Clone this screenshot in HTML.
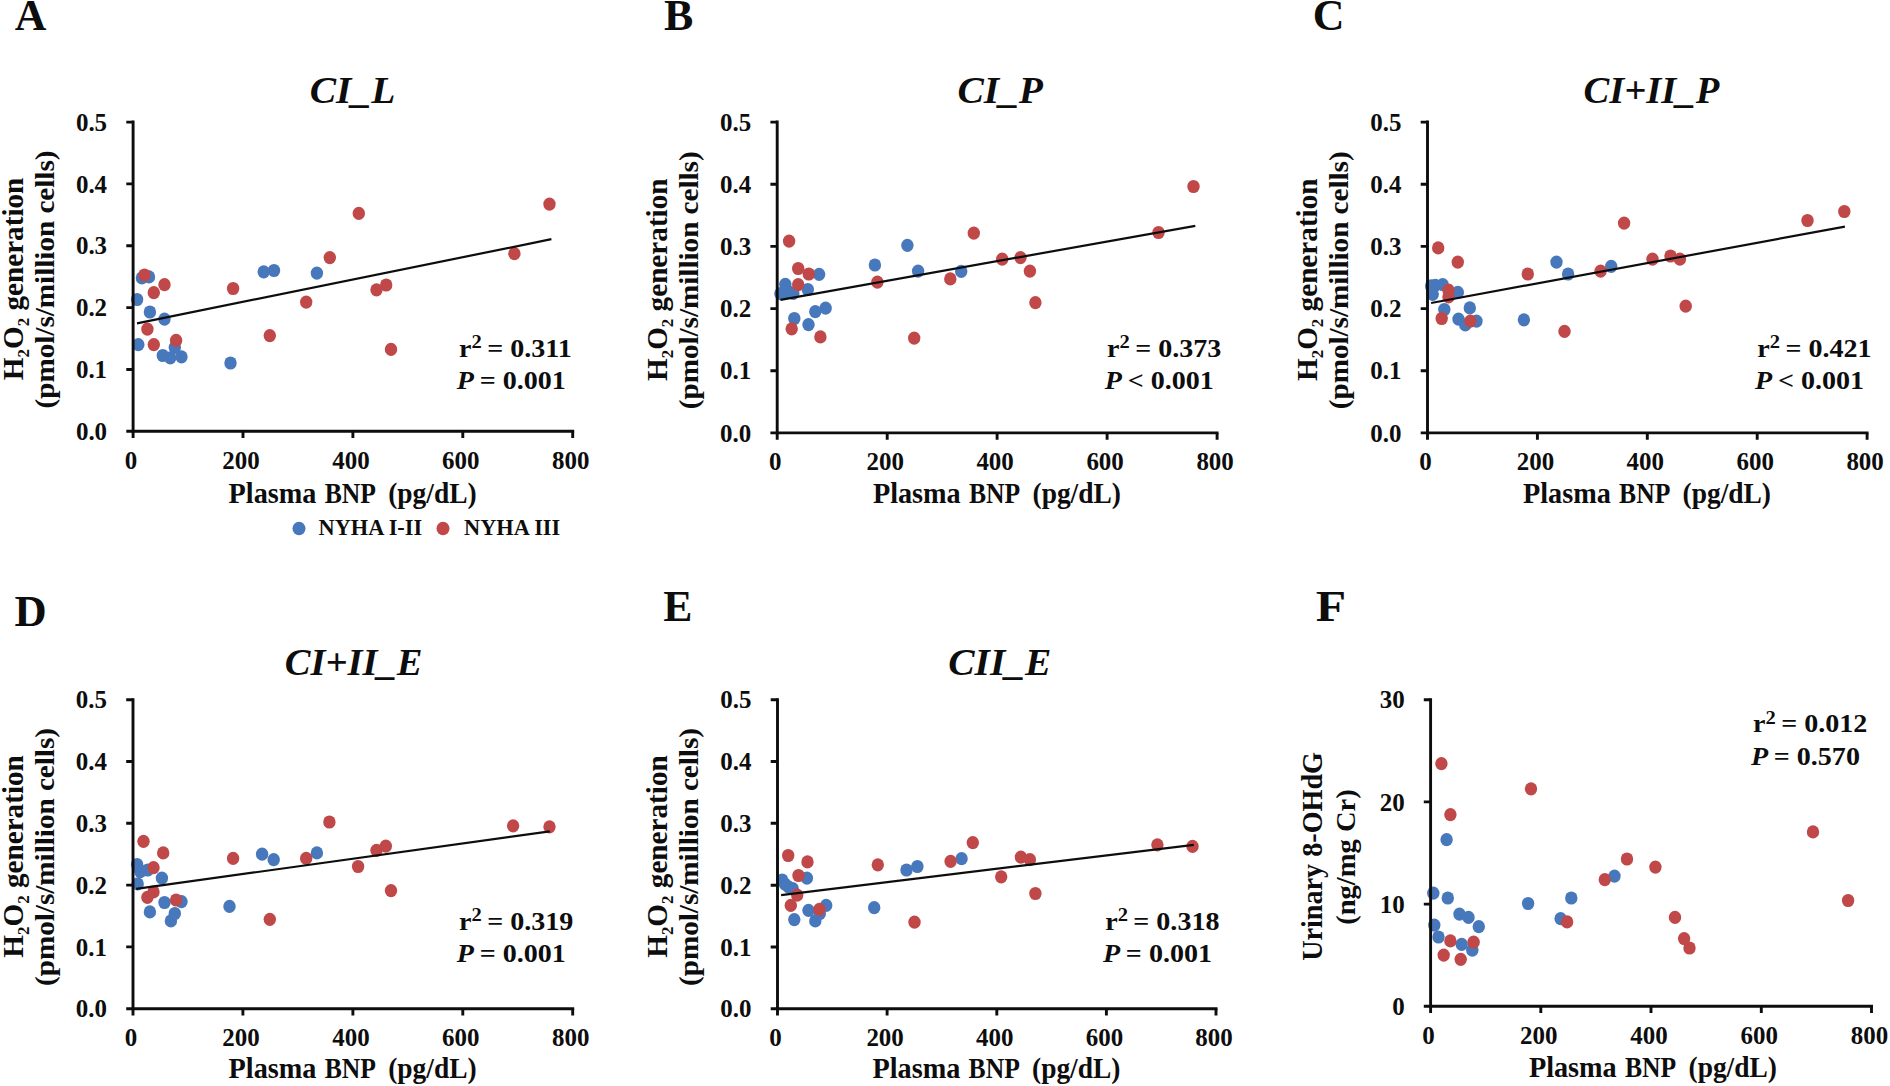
<!DOCTYPE html>
<html lang="en"><head><meta charset="utf-8"><title>Figure</title>
<style>html,body{margin:0;padding:0;background:#fff;overflow:hidden}svg{display:block}text{font-family:"Liberation Serif", "DejaVu Serif", serif;font-weight:bold;fill:#0d0d0d}.tick{font-size:26px}.ax{font-size:28px}.ax1{font-size:29.5px}.axx{font-size:29.5px}.ttl{font-size:37px;font-style:italic}.let{font-size:43.7px}.st{font-size:26px}.lg{font-size:23px}.sub{font-size:17px}.sup{font-size:19px}</style></head><body>
<svg width="1890" height="1086" viewBox="0 0 1890 1086">
<rect width="1890" height="1086" fill="#fff"/>
<g>
<text class="let" transform="translate(14.8 29.8) scale(1.003 1)">A</text>
<text class="ttl" transform="translate(352.5 103.0) scale(1.067 1)" text-anchor="middle">CI_L</text>
<text class="tick" transform="translate(107.1 439.9) scale(0.96 1)" text-anchor="end">0.0</text>
<text class="tick" transform="translate(107.1 378.1) scale(0.96 1)" text-anchor="end">0.1</text>
<text class="tick" transform="translate(107.1 316.2) scale(0.96 1)" text-anchor="end">0.2</text>
<text class="tick" transform="translate(107.1 254.4) scale(0.96 1)" text-anchor="end">0.3</text>
<text class="tick" transform="translate(107.1 192.5) scale(0.96 1)" text-anchor="end">0.4</text>
<text class="tick" transform="translate(107.1 130.7) scale(0.96 1)" text-anchor="end">0.5</text>
<text class="tick" transform="translate(131.1 468.7) scale(0.96 1)" text-anchor="middle">0</text>
<text class="tick" transform="translate(241.0 468.7) scale(0.96 1)" text-anchor="middle">200</text>
<text class="tick" transform="translate(350.9 468.7) scale(0.96 1)" text-anchor="middle">400</text>
<text class="tick" transform="translate(460.8 468.7) scale(0.96 1)" text-anchor="middle">600</text>
<text class="tick" transform="translate(570.7 468.7) scale(0.96 1)" text-anchor="middle">800</text>
<text class="axx" x="228.6" y="503.1" textLength="87.8" lengthAdjust="spacingAndGlyphs">Plasma</text>
<text class="axx" x="324.7" y="503.1" textLength="51.2" lengthAdjust="spacingAndGlyphs">BNP</text>
<text class="axx" x="388.2" y="503.1" textLength="88.4" lengthAdjust="spacingAndGlyphs">(pg/dL)</text>
<text class="ax1" transform="translate(22.9 278.9) rotate(-90) scale(0.99 1)" text-anchor="middle">H<tspan class="sub" dy="6">2</tspan><tspan dy="-6">O</tspan><tspan class="sub" dy="6">2</tspan><tspan dy="-6"> generation</tspan></text>
<text class="ax" transform="translate(53.9 279.5) rotate(-90) scale(1.04 1)" text-anchor="middle">(pmol/s/million cells)</text>
<g fill="#4878bc"><ellipse cx="141.9" cy="277.9" rx="6.2" ry="6.6"/><ellipse cx="149.0" cy="276.9" rx="6.2" ry="6.6"/><ellipse cx="137.1" cy="299.5" rx="6.2" ry="6.6"/><ellipse cx="149.9" cy="312.0" rx="6.2" ry="6.6"/><ellipse cx="164.5" cy="319.1" rx="6.2" ry="6.6"/><ellipse cx="138.3" cy="344.6" rx="6.2" ry="6.6"/><ellipse cx="162.8" cy="355.5" rx="6.2" ry="6.6"/><ellipse cx="170.3" cy="357.8" rx="6.2" ry="6.6"/><ellipse cx="174.8" cy="347.5" rx="6.2" ry="6.6"/><ellipse cx="181.5" cy="356.8" rx="6.2" ry="6.6"/><ellipse cx="230.5" cy="363.0" rx="6.2" ry="6.6"/><ellipse cx="263.7" cy="271.8" rx="6.2" ry="6.6"/><ellipse cx="274.0" cy="270.5" rx="6.2" ry="6.6"/><ellipse cx="316.9" cy="273.1" rx="6.2" ry="6.6"/></g>
<g fill="#c04848"><ellipse cx="144.5" cy="275.0" rx="6.2" ry="6.6"/><ellipse cx="164.5" cy="284.7" rx="6.2" ry="6.6"/><ellipse cx="153.8" cy="292.7" rx="6.2" ry="6.6"/><ellipse cx="147.4" cy="329.1" rx="6.2" ry="6.6"/><ellipse cx="153.8" cy="344.6" rx="6.2" ry="6.6"/><ellipse cx="176.1" cy="340.4" rx="6.2" ry="6.6"/><ellipse cx="233.1" cy="288.5" rx="6.2" ry="6.6"/><ellipse cx="269.8" cy="335.6" rx="6.2" ry="6.6"/><ellipse cx="306.2" cy="302.1" rx="6.2" ry="6.6"/><ellipse cx="329.8" cy="257.6" rx="6.2" ry="6.6"/><ellipse cx="358.8" cy="213.4" rx="6.2" ry="6.6"/><ellipse cx="376.5" cy="289.8" rx="6.2" ry="6.6"/><ellipse cx="386.2" cy="285.0" rx="6.2" ry="6.6"/><ellipse cx="391.0" cy="349.4" rx="6.2" ry="6.6"/><ellipse cx="549.5" cy="204.1" rx="6.2" ry="6.6"/><ellipse cx="514.4" cy="253.7" rx="6.2" ry="6.6"/></g>
<line x1="137" y1="323.3" x2="551.4" y2="239.2" stroke="#0d0d0d" stroke-width="2.2"/>
<path d="M133.1 120.6 V431.3 H574.2" fill="none" stroke="#0d0d0d" stroke-width="2.9"/>
<path d="M126.3 431.3H133.1M126.3 369.5H133.1M126.3 307.6H133.1M126.3 245.8H133.1M126.3 183.9H133.1M126.3 122.1H133.1M133.1 431.3V438.1M243.0 431.3V438.1M352.9 431.3V438.1M462.8 431.3V438.1M572.7 431.3V438.1" fill="none" stroke="#0d0d0d" stroke-width="2.9"/>
<text class="st" transform="translate(459 356.8) scale(1.08 1)">r<tspan class="sup" dy="-8.8">2</tspan><tspan dy="8.8" dx="-1.5"> = 0.311</tspan></text>
<text class="st" transform="translate(456.8 389.1) scale(1.08 1)"><tspan font-style="italic">P</tspan><tspan dx="-1.2"> = 0.001</tspan></text>
</g>
<g>
<text class="let" transform="translate(664.0 29.9) scale(1.005 1)">B</text>
<text class="ttl" transform="translate(1000.2 103.0) scale(1.067 1)" text-anchor="middle">CI_P</text>
<text class="tick" transform="translate(751.2 441.5) scale(0.96 1)" text-anchor="end">0.0</text>
<text class="tick" transform="translate(751.2 379.3) scale(0.96 1)" text-anchor="end">0.1</text>
<text class="tick" transform="translate(751.2 317.2) scale(0.96 1)" text-anchor="end">0.2</text>
<text class="tick" transform="translate(751.2 255.0) scale(0.96 1)" text-anchor="end">0.3</text>
<text class="tick" transform="translate(751.2 192.9) scale(0.96 1)" text-anchor="end">0.4</text>
<text class="tick" transform="translate(751.2 130.7) scale(0.96 1)" text-anchor="end">0.5</text>
<text class="tick" transform="translate(775.2 470.3) scale(0.96 1)" text-anchor="middle">0</text>
<text class="tick" transform="translate(885.2 470.3) scale(0.96 1)" text-anchor="middle">200</text>
<text class="tick" transform="translate(995.1 470.3) scale(0.96 1)" text-anchor="middle">400</text>
<text class="tick" transform="translate(1105.1 470.3) scale(0.96 1)" text-anchor="middle">600</text>
<text class="tick" transform="translate(1215.1 470.3) scale(0.96 1)" text-anchor="middle">800</text>
<text class="axx" x="872.9" y="503.1" textLength="87.8" lengthAdjust="spacingAndGlyphs">Plasma</text>
<text class="axx" x="969.0" y="503.1" textLength="51.2" lengthAdjust="spacingAndGlyphs">BNP</text>
<text class="axx" x="1032.5" y="503.1" textLength="88.4" lengthAdjust="spacingAndGlyphs">(pg/dL)</text>
<text class="ax1" transform="translate(667.0 279.7) rotate(-90) scale(0.99 1)" text-anchor="middle">H<tspan class="sub" dy="6">2</tspan><tspan dy="-6">O</tspan><tspan class="sub" dy="6">2</tspan><tspan dy="-6"> generation</tspan></text>
<text class="ax" transform="translate(698.0 280.3) rotate(-90) scale(1.04 1)" text-anchor="middle">(pmol/s/million cells)</text>
<g fill="#4878bc"><ellipse cx="785.3" cy="284.3" rx="6.2" ry="6.6"/><ellipse cx="780.4" cy="293.7" rx="6.2" ry="6.6"/><ellipse cx="783.7" cy="292.7" rx="6.2" ry="6.6"/><ellipse cx="788.5" cy="291.7" rx="6.2" ry="6.6"/><ellipse cx="793.3" cy="293.4" rx="6.2" ry="6.6"/><ellipse cx="807.8" cy="289.5" rx="6.2" ry="6.6"/><ellipse cx="819.1" cy="274.3" rx="6.2" ry="6.6"/><ellipse cx="794.3" cy="318.5" rx="6.2" ry="6.6"/><ellipse cx="808.5" cy="324.6" rx="6.2" ry="6.6"/><ellipse cx="815.3" cy="311.7" rx="6.2" ry="6.6"/><ellipse cx="825.6" cy="308.2" rx="6.2" ry="6.6"/><ellipse cx="874.9" cy="265.0" rx="6.2" ry="6.6"/><ellipse cx="907.4" cy="245.3" rx="6.2" ry="6.6"/><ellipse cx="918.1" cy="271.1" rx="6.2" ry="6.6"/><ellipse cx="961.2" cy="271.4" rx="6.2" ry="6.6"/></g>
<g fill="#c04848"><ellipse cx="789.1" cy="241.1" rx="6.2" ry="6.6"/><ellipse cx="798.2" cy="268.5" rx="6.2" ry="6.6"/><ellipse cx="808.8" cy="274.0" rx="6.2" ry="6.6"/><ellipse cx="798.2" cy="284.7" rx="6.2" ry="6.6"/><ellipse cx="791.7" cy="328.8" rx="6.2" ry="6.6"/><ellipse cx="820.4" cy="336.9" rx="6.2" ry="6.6"/><ellipse cx="877.4" cy="282.1" rx="6.2" ry="6.6"/><ellipse cx="914.2" cy="338.1" rx="6.2" ry="6.6"/><ellipse cx="950.3" cy="278.9" rx="6.2" ry="6.6"/><ellipse cx="973.8" cy="233.1" rx="6.2" ry="6.6"/><ellipse cx="1002.2" cy="259.2" rx="6.2" ry="6.6"/><ellipse cx="1020.5" cy="257.6" rx="6.2" ry="6.6"/><ellipse cx="1029.9" cy="271.1" rx="6.2" ry="6.6"/><ellipse cx="1035.4" cy="302.7" rx="6.2" ry="6.6"/><ellipse cx="1158.5" cy="232.5" rx="6.2" ry="6.6"/><ellipse cx="1193.5" cy="186.5" rx="6.2" ry="6.6"/></g>
<line x1="780.5" y1="299.8" x2="1195.3" y2="225.8" stroke="#0d0d0d" stroke-width="2.2"/>
<path d="M777.2 120.6 V432.9 H1218.5" fill="none" stroke="#0d0d0d" stroke-width="2.9"/>
<path d="M770.4 432.9H777.2M770.4 370.7H777.2M770.4 308.6H777.2M770.4 246.4H777.2M770.4 184.3H777.2M770.4 122.1H777.2M777.2 432.9V439.7M887.2 432.9V439.7M997.1 432.9V439.7M1107.1 432.9V439.7M1217.1 432.9V439.7" fill="none" stroke="#0d0d0d" stroke-width="2.9"/>
<text class="st" transform="translate(1107 356.8) scale(1.08 1)">r<tspan class="sup" dy="-8.8">2</tspan><tspan dy="8.8" dx="-1.5"> = 0.373</tspan></text>
<text class="st" transform="translate(1104.8 389.1) scale(1.08 1)"><tspan font-style="italic">P</tspan><tspan dx="-1.2"> &lt; 0.001</tspan></text>
</g>
<g>
<text class="let" transform="translate(1312.8 29.9) scale(1.005 1)">C</text>
<text class="ttl" transform="translate(1651.4 103.0) scale(1.043 1)" text-anchor="middle">CI+II_P</text>
<text class="tick" transform="translate(1401.5 441.5) scale(0.96 1)" text-anchor="end">0.0</text>
<text class="tick" transform="translate(1401.5 379.3) scale(0.96 1)" text-anchor="end">0.1</text>
<text class="tick" transform="translate(1401.5 317.2) scale(0.96 1)" text-anchor="end">0.2</text>
<text class="tick" transform="translate(1401.5 255.0) scale(0.96 1)" text-anchor="end">0.3</text>
<text class="tick" transform="translate(1401.5 192.9) scale(0.96 1)" text-anchor="end">0.4</text>
<text class="tick" transform="translate(1401.5 130.7) scale(0.96 1)" text-anchor="end">0.5</text>
<text class="tick" transform="translate(1425.5 470.3) scale(0.96 1)" text-anchor="middle">0</text>
<text class="tick" transform="translate(1535.4 470.3) scale(0.96 1)" text-anchor="middle">200</text>
<text class="tick" transform="translate(1645.3 470.3) scale(0.96 1)" text-anchor="middle">400</text>
<text class="tick" transform="translate(1755.2 470.3) scale(0.96 1)" text-anchor="middle">600</text>
<text class="tick" transform="translate(1865.1 470.3) scale(0.96 1)" text-anchor="middle">800</text>
<text class="axx" x="1523.0" y="503.1" textLength="87.8" lengthAdjust="spacingAndGlyphs">Plasma</text>
<text class="axx" x="1619.1" y="503.1" textLength="51.2" lengthAdjust="spacingAndGlyphs">BNP</text>
<text class="axx" x="1682.6" y="503.1" textLength="88.4" lengthAdjust="spacingAndGlyphs">(pg/dL)</text>
<text class="ax1" transform="translate(1317.3 279.7) rotate(-90) scale(0.99 1)" text-anchor="middle">H<tspan class="sub" dy="6">2</tspan><tspan dy="-6">O</tspan><tspan class="sub" dy="6">2</tspan><tspan dy="-6"> generation</tspan></text>
<text class="ax" transform="translate(1348.3 280.3) rotate(-90) scale(1.04 1)" text-anchor="middle">(pmol/s/million cells)</text>
<g fill="#4878bc"><ellipse cx="1431.1" cy="285.9" rx="6.2" ry="6.6"/><ellipse cx="1435.3" cy="285.3" rx="6.2" ry="6.6"/><ellipse cx="1442.7" cy="284.7" rx="6.2" ry="6.6"/><ellipse cx="1432.7" cy="294.3" rx="6.2" ry="6.6"/><ellipse cx="1457.8" cy="292.4" rx="6.2" ry="6.6"/><ellipse cx="1444.3" cy="309.5" rx="6.2" ry="6.6"/><ellipse cx="1469.8" cy="307.9" rx="6.2" ry="6.6"/><ellipse cx="1458.5" cy="319.1" rx="6.2" ry="6.6"/><ellipse cx="1465.3" cy="324.9" rx="6.2" ry="6.6"/><ellipse cx="1476.5" cy="321.1" rx="6.2" ry="6.6"/><ellipse cx="1523.9" cy="319.8" rx="6.2" ry="6.6"/><ellipse cx="1556.5" cy="262.1" rx="6.2" ry="6.6"/><ellipse cx="1568.1" cy="274.0" rx="6.2" ry="6.6"/><ellipse cx="1611.2" cy="266.3" rx="6.2" ry="6.6"/></g>
<g fill="#c04848"><ellipse cx="1438.2" cy="247.9" rx="6.2" ry="6.6"/><ellipse cx="1457.8" cy="262.1" rx="6.2" ry="6.6"/><ellipse cx="1448.5" cy="290.1" rx="6.2" ry="6.6"/><ellipse cx="1448.5" cy="296.9" rx="6.2" ry="6.6"/><ellipse cx="1441.7" cy="318.5" rx="6.2" ry="6.6"/><ellipse cx="1470.4" cy="321.1" rx="6.2" ry="6.6"/><ellipse cx="1527.8" cy="274.0" rx="6.2" ry="6.6"/><ellipse cx="1564.5" cy="331.4" rx="6.2" ry="6.6"/><ellipse cx="1600.6" cy="271.1" rx="6.2" ry="6.6"/><ellipse cx="1624.1" cy="223.1" rx="6.2" ry="6.6"/><ellipse cx="1652.5" cy="259.2" rx="6.2" ry="6.6"/><ellipse cx="1670.5" cy="256.0" rx="6.2" ry="6.6"/><ellipse cx="1679.9" cy="259.2" rx="6.2" ry="6.6"/><ellipse cx="1685.7" cy="306.2" rx="6.2" ry="6.6"/><ellipse cx="1807.5" cy="220.5" rx="6.2" ry="6.6"/><ellipse cx="1844.3" cy="211.5" rx="6.2" ry="6.6"/></g>
<line x1="1431.1" y1="303" x2="1844.9" y2="226.6" stroke="#0d0d0d" stroke-width="2.2"/>
<path d="M1427.5 120.6 V432.9 H1868.5" fill="none" stroke="#0d0d0d" stroke-width="2.9"/>
<path d="M1420.7 432.9H1427.5M1420.7 370.7H1427.5M1420.7 308.6H1427.5M1420.7 246.4H1427.5M1420.7 184.3H1427.5M1420.7 122.1H1427.5M1427.5 432.9V439.7M1537.4 432.9V439.7M1647.3 432.9V439.7M1757.2 432.9V439.7M1867.1 432.9V439.7" fill="none" stroke="#0d0d0d" stroke-width="2.9"/>
<text class="st" transform="translate(1757.3 356.8) scale(1.08 1)">r<tspan class="sup" dy="-8.8">2</tspan><tspan dy="8.8" dx="-1.5"> = 0.421</tspan></text>
<text class="st" transform="translate(1755.1 389.1) scale(1.08 1)"><tspan font-style="italic">P</tspan><tspan dx="-1.2"> &lt; 0.001</tspan></text>
</g>
<g>
<text class="let" transform="translate(14.6 625.8) scale(1.02 1)">D</text>
<text class="ttl" transform="translate(353.7 674.5) scale(1.043 1)" text-anchor="middle">CI+II_E</text>
<text class="tick" transform="translate(107.0 1017.3) scale(0.96 1)" text-anchor="end">0.0</text>
<text class="tick" transform="translate(107.0 955.5) scale(0.96 1)" text-anchor="end">0.1</text>
<text class="tick" transform="translate(107.0 893.7) scale(0.96 1)" text-anchor="end">0.2</text>
<text class="tick" transform="translate(107.0 831.9) scale(0.96 1)" text-anchor="end">0.3</text>
<text class="tick" transform="translate(107.0 770.1) scale(0.96 1)" text-anchor="end">0.4</text>
<text class="tick" transform="translate(107.0 708.3) scale(0.96 1)" text-anchor="end">0.5</text>
<text class="tick" transform="translate(131.0 1046.1) scale(0.96 1)" text-anchor="middle">0</text>
<text class="tick" transform="translate(240.9 1046.1) scale(0.96 1)" text-anchor="middle">200</text>
<text class="tick" transform="translate(350.9 1046.1) scale(0.96 1)" text-anchor="middle">400</text>
<text class="tick" transform="translate(460.8 1046.1) scale(0.96 1)" text-anchor="middle">600</text>
<text class="tick" transform="translate(570.7 1046.1) scale(0.96 1)" text-anchor="middle">800</text>
<text class="axx" x="228.6" y="1077.9" textLength="87.8" lengthAdjust="spacingAndGlyphs">Plasma</text>
<text class="axx" x="324.7" y="1077.9" textLength="51.2" lengthAdjust="spacingAndGlyphs">BNP</text>
<text class="axx" x="388.2" y="1077.9" textLength="88.4" lengthAdjust="spacingAndGlyphs">(pg/dL)</text>
<text class="ax1" transform="translate(22.8 856.4) rotate(-90) scale(0.99 1)" text-anchor="middle">H<tspan class="sub" dy="6">2</tspan><tspan dy="-6">O</tspan><tspan class="sub" dy="6">2</tspan><tspan dy="-6"> generation</tspan></text>
<text class="ax" transform="translate(53.8 857.0) rotate(-90) scale(1.04 1)" text-anchor="middle">(pmol/s/million cells)</text>
<g fill="#4878bc"><ellipse cx="137.1" cy="864.5" rx="6.2" ry="6.6"/><ellipse cx="140.3" cy="871.6" rx="6.2" ry="6.6"/><ellipse cx="147.7" cy="870.0" rx="6.2" ry="6.6"/><ellipse cx="137.7" cy="883.9" rx="6.2" ry="6.6"/><ellipse cx="161.9" cy="878.1" rx="6.2" ry="6.6"/><ellipse cx="149.9" cy="911.9" rx="6.2" ry="6.6"/><ellipse cx="164.5" cy="902.5" rx="6.2" ry="6.6"/><ellipse cx="170.9" cy="920.9" rx="6.2" ry="6.6"/><ellipse cx="174.8" cy="913.5" rx="6.2" ry="6.6"/><ellipse cx="181.5" cy="901.6" rx="6.2" ry="6.6"/><ellipse cx="229.5" cy="906.4" rx="6.2" ry="6.6"/><ellipse cx="262.1" cy="854.2" rx="6.2" ry="6.6"/><ellipse cx="273.7" cy="859.7" rx="6.2" ry="6.6"/><ellipse cx="316.9" cy="852.9" rx="6.2" ry="6.6"/></g>
<g fill="#c04848"><ellipse cx="143.5" cy="841.3" rx="6.2" ry="6.6"/><ellipse cx="163.2" cy="852.9" rx="6.2" ry="6.6"/><ellipse cx="153.5" cy="867.7" rx="6.2" ry="6.6"/><ellipse cx="153.5" cy="891.9" rx="6.2" ry="6.6"/><ellipse cx="147.4" cy="897.4" rx="6.2" ry="6.6"/><ellipse cx="176.1" cy="900.0" rx="6.2" ry="6.6"/><ellipse cx="233.1" cy="858.4" rx="6.2" ry="6.6"/><ellipse cx="269.8" cy="919.3" rx="6.2" ry="6.6"/><ellipse cx="306.2" cy="858.4" rx="6.2" ry="6.6"/><ellipse cx="329.4" cy="822.0" rx="6.2" ry="6.6"/><ellipse cx="358.1" cy="866.5" rx="6.2" ry="6.6"/><ellipse cx="376.5" cy="850.3" rx="6.2" ry="6.6"/><ellipse cx="385.8" cy="846.2" rx="6.2" ry="6.6"/><ellipse cx="391.0" cy="890.6" rx="6.2" ry="6.6"/><ellipse cx="513.1" cy="825.8" rx="6.2" ry="6.6"/><ellipse cx="549.5" cy="826.8" rx="6.2" ry="6.6"/></g>
<line x1="136.1" y1="888.9" x2="549.8" y2="831.4" stroke="#0d0d0d" stroke-width="2.2"/>
<path d="M133.0 698.2 V1008.7 H574.2" fill="none" stroke="#0d0d0d" stroke-width="2.9"/>
<path d="M126.2 1008.7H133.0M126.2 946.9H133.0M126.2 885.1H133.0M126.2 823.3H133.0M126.2 761.5H133.0M126.2 699.7H133.0M133.0 1008.7V1015.5M242.9 1008.7V1015.5M352.9 1008.7V1015.5M462.8 1008.7V1015.5M572.7 1008.7V1015.5" fill="none" stroke="#0d0d0d" stroke-width="2.9"/>
<text class="st" transform="translate(459 929.9) scale(1.08 1)">r<tspan class="sup" dy="-8.8">2</tspan><tspan dy="8.8" dx="-1.5"> = 0.319</tspan></text>
<text class="st" transform="translate(456.8 962.2) scale(1.08 1)"><tspan font-style="italic">P</tspan><tspan dx="-1.2"> = 0.001</tspan></text>
</g>
<g>
<text class="let" transform="translate(663.3 621.2) scale(1.0 1)">E</text>
<text class="ttl" transform="translate(999.8 674.5) scale(1.067 1)" text-anchor="middle">CII_E</text>
<text class="tick" transform="translate(751.5 1017.4) scale(0.96 1)" text-anchor="end">0.0</text>
<text class="tick" transform="translate(751.5 955.6) scale(0.96 1)" text-anchor="end">0.1</text>
<text class="tick" transform="translate(751.5 893.8) scale(0.96 1)" text-anchor="end">0.2</text>
<text class="tick" transform="translate(751.5 831.9) scale(0.96 1)" text-anchor="end">0.3</text>
<text class="tick" transform="translate(751.5 770.1) scale(0.96 1)" text-anchor="end">0.4</text>
<text class="tick" transform="translate(751.5 708.3) scale(0.96 1)" text-anchor="end">0.5</text>
<text class="tick" transform="translate(775.5 1046.2) scale(0.96 1)" text-anchor="middle">0</text>
<text class="tick" transform="translate(885.1 1046.2) scale(0.96 1)" text-anchor="middle">200</text>
<text class="tick" transform="translate(994.8 1046.2) scale(0.96 1)" text-anchor="middle">400</text>
<text class="tick" transform="translate(1104.4 1046.2) scale(0.96 1)" text-anchor="middle">600</text>
<text class="tick" transform="translate(1214.0 1046.2) scale(0.96 1)" text-anchor="middle">800</text>
<text class="axx" x="872.5" y="1077.9" textLength="87.8" lengthAdjust="spacingAndGlyphs">Plasma</text>
<text class="axx" x="968.6" y="1077.9" textLength="51.2" lengthAdjust="spacingAndGlyphs">BNP</text>
<text class="axx" x="1032.0" y="1077.9" textLength="88.4" lengthAdjust="spacingAndGlyphs">(pg/dL)</text>
<text class="ax1" transform="translate(667.3 856.5) rotate(-90) scale(0.99 1)" text-anchor="middle">H<tspan class="sub" dy="6">2</tspan><tspan dy="-6">O</tspan><tspan class="sub" dy="6">2</tspan><tspan dy="-6"> generation</tspan></text>
<text class="ax" transform="translate(698.3 857.0) rotate(-90) scale(1.04 1)" text-anchor="middle">(pmol/s/million cells)</text>
<g fill="#4878bc"><ellipse cx="782.1" cy="880.0" rx="6.2" ry="6.6"/><ellipse cx="785.0" cy="884.2" rx="6.2" ry="6.6"/><ellipse cx="788.8" cy="887.1" rx="6.2" ry="6.6"/><ellipse cx="792.7" cy="888.7" rx="6.2" ry="6.6"/><ellipse cx="806.9" cy="878.1" rx="6.2" ry="6.6"/><ellipse cx="794.3" cy="919.6" rx="6.2" ry="6.6"/><ellipse cx="808.5" cy="910.3" rx="6.2" ry="6.6"/><ellipse cx="815.3" cy="920.9" rx="6.2" ry="6.6"/><ellipse cx="819.8" cy="913.5" rx="6.2" ry="6.6"/><ellipse cx="826.2" cy="905.4" rx="6.2" ry="6.6"/><ellipse cx="874.2" cy="907.7" rx="6.2" ry="6.6"/><ellipse cx="906.5" cy="870.0" rx="6.2" ry="6.6"/><ellipse cx="917.4" cy="866.5" rx="6.2" ry="6.6"/><ellipse cx="961.6" cy="858.7" rx="6.2" ry="6.6"/></g>
<g fill="#c04848"><ellipse cx="788.2" cy="855.5" rx="6.2" ry="6.6"/><ellipse cx="807.5" cy="861.9" rx="6.2" ry="6.6"/><ellipse cx="798.5" cy="875.5" rx="6.2" ry="6.6"/><ellipse cx="797.2" cy="895.1" rx="6.2" ry="6.6"/><ellipse cx="790.8" cy="905.4" rx="6.2" ry="6.6"/><ellipse cx="819.4" cy="909.3" rx="6.2" ry="6.6"/><ellipse cx="877.8" cy="864.8" rx="6.2" ry="6.6"/><ellipse cx="914.5" cy="922.2" rx="6.2" ry="6.6"/><ellipse cx="950.6" cy="861.3" rx="6.2" ry="6.6"/><ellipse cx="972.8" cy="842.6" rx="6.2" ry="6.6"/><ellipse cx="1001.2" cy="876.8" rx="6.2" ry="6.6"/><ellipse cx="1020.9" cy="857.1" rx="6.2" ry="6.6"/><ellipse cx="1029.9" cy="859.7" rx="6.2" ry="6.6"/><ellipse cx="1035.4" cy="893.5" rx="6.2" ry="6.6"/><ellipse cx="1157.4" cy="844.8" rx="6.2" ry="6.6"/><ellipse cx="1192.5" cy="846.4" rx="6.2" ry="6.6"/></g>
<line x1="781.1" y1="895.1" x2="1193.8" y2="844.8" stroke="#0d0d0d" stroke-width="2.2"/>
<path d="M777.5 698.2 V1008.8 H1217.5" fill="none" stroke="#0d0d0d" stroke-width="2.9"/>
<path d="M770.7 1008.8H777.5M770.7 947.0H777.5M770.7 885.2H777.5M770.7 823.3H777.5M770.7 761.5H777.5M770.7 699.7H777.5M777.5 1008.8V1015.6M887.1 1008.8V1015.6M996.8 1008.8V1015.6M1106.4 1008.8V1015.6M1216.0 1008.8V1015.6" fill="none" stroke="#0d0d0d" stroke-width="2.9"/>
<text class="st" transform="translate(1105.2 929.9) scale(1.08 1)">r<tspan class="sup" dy="-8.8">2</tspan><tspan dy="8.8" dx="-1.5"> = 0.318</tspan></text>
<text class="st" transform="translate(1103.0 962.2) scale(1.08 1)"><tspan font-style="italic">P</tspan><tspan dx="-1.2"> = 0.001</tspan></text>
</g>
<g>
<text class="let" transform="translate(1315.7 621.4) scale(1.137 1)">F</text>
<text class="tick" transform="translate(1404.6 1014.9) scale(0.96 1)" text-anchor="end">0</text>
<text class="tick" transform="translate(1404.6 912.7) scale(0.96 1)" text-anchor="end">10</text>
<text class="tick" transform="translate(1404.6 810.5) scale(0.96 1)" text-anchor="end">20</text>
<text class="tick" transform="translate(1404.6 708.3) scale(0.96 1)" text-anchor="end">30</text>
<text class="tick" transform="translate(1428.6 1043.7) scale(0.96 1)" text-anchor="middle">0</text>
<text class="tick" transform="translate(1538.8 1043.7) scale(0.96 1)" text-anchor="middle">200</text>
<text class="tick" transform="translate(1649.0 1043.7) scale(0.96 1)" text-anchor="middle">400</text>
<text class="tick" transform="translate(1759.3 1043.7) scale(0.96 1)" text-anchor="middle">600</text>
<text class="tick" transform="translate(1869.5 1043.7) scale(0.96 1)" text-anchor="middle">800</text>
<text class="axx" x="1528.9" y="1076.9" textLength="87.8" lengthAdjust="spacingAndGlyphs">Plasma</text>
<text class="axx" x="1625.0" y="1076.9" textLength="51.2" lengthAdjust="spacingAndGlyphs">BNP</text>
<text class="axx" x="1688.5" y="1076.9" textLength="88.4" lengthAdjust="spacingAndGlyphs">(pg/dL)</text>
<text class="ax1" transform="translate(1321.5 856.4) rotate(-90) scale(0.955 1)" text-anchor="middle">Urinary 8-OHdG</text>
<text class="ax" transform="translate(1355.0 857.1) rotate(-90) scale(1.02 1)" text-anchor="middle">(ng/mg Cr)</text>
<g fill="#4878bc"><ellipse cx="1446.6" cy="839.7" rx="6.2" ry="6.6"/><ellipse cx="1433.3" cy="893.2" rx="6.2" ry="6.6"/><ellipse cx="1447.8" cy="898.0" rx="6.2" ry="6.6"/><ellipse cx="1459.5" cy="914.1" rx="6.2" ry="6.6"/><ellipse cx="1468.5" cy="917.4" rx="6.2" ry="6.6"/><ellipse cx="1478.8" cy="926.7" rx="6.2" ry="6.6"/><ellipse cx="1434.3" cy="925.1" rx="6.2" ry="6.6"/><ellipse cx="1438.5" cy="937.0" rx="6.2" ry="6.6"/><ellipse cx="1461.7" cy="944.4" rx="6.2" ry="6.6"/><ellipse cx="1472.3" cy="950.2" rx="6.2" ry="6.6"/><ellipse cx="1528.1" cy="903.5" rx="6.2" ry="6.6"/><ellipse cx="1560.6" cy="918.7" rx="6.2" ry="6.6"/><ellipse cx="1571.3" cy="898.0" rx="6.2" ry="6.6"/><ellipse cx="1614.5" cy="876.1" rx="6.2" ry="6.6"/></g>
<g fill="#c04848"><ellipse cx="1441.4" cy="763.7" rx="6.2" ry="6.6"/><ellipse cx="1450.4" cy="814.6" rx="6.2" ry="6.6"/><ellipse cx="1531.0" cy="788.8" rx="6.2" ry="6.6"/><ellipse cx="1450.4" cy="940.9" rx="6.2" ry="6.6"/><ellipse cx="1443.7" cy="955.1" rx="6.2" ry="6.6"/><ellipse cx="1460.7" cy="959.3" rx="6.2" ry="6.6"/><ellipse cx="1473.6" cy="942.2" rx="6.2" ry="6.6"/><ellipse cx="1567.1" cy="921.9" rx="6.2" ry="6.6"/><ellipse cx="1604.8" cy="879.7" rx="6.2" ry="6.6"/><ellipse cx="1627.0" cy="859.0" rx="6.2" ry="6.6"/><ellipse cx="1655.4" cy="867.1" rx="6.2" ry="6.6"/><ellipse cx="1675.0" cy="917.4" rx="6.2" ry="6.6"/><ellipse cx="1684.1" cy="938.6" rx="6.2" ry="6.6"/><ellipse cx="1689.5" cy="948.0" rx="6.2" ry="6.6"/><ellipse cx="1813.0" cy="831.9" rx="6.2" ry="6.6"/><ellipse cx="1848.1" cy="900.5" rx="6.2" ry="6.6"/></g>
<path d="M1430.6 698.2 V1006.3 H1873.0" fill="none" stroke="#0d0d0d" stroke-width="2.9"/>
<path d="M1423.8 1006.3H1430.6M1423.8 904.1H1430.6M1423.8 801.9H1430.6M1423.8 699.7H1430.6M1430.6 1006.3V1013.1M1540.8 1006.3V1013.1M1651.0 1006.3V1013.1M1761.3 1006.3V1013.1M1871.5 1006.3V1013.1" fill="none" stroke="#0d0d0d" stroke-width="2.9"/>
<text class="st" transform="translate(1753.1 732.4) scale(1.08 1)">r<tspan class="sup" dy="-8.8">2</tspan><tspan dy="8.8" dx="-1.5"> = 0.012</tspan></text>
<text class="st" transform="translate(1750.9 764.7) scale(1.08 1)"><tspan font-style="italic">P</tspan><tspan dx="-1.2"> = 0.570</tspan></text>
</g>
<ellipse cx="299" cy="528.5" rx="6.5" ry="6.8" fill="#4878bc"/><text class="lg" transform="translate(318.5 535) scale(0.972 1)">NYHA I-II</text>
<ellipse cx="443" cy="528.5" rx="6.5" ry="6.8" fill="#c04848"/><text class="lg" transform="translate(464 535) scale(0.972 1)">NYHA III</text>
</svg></body></html>
